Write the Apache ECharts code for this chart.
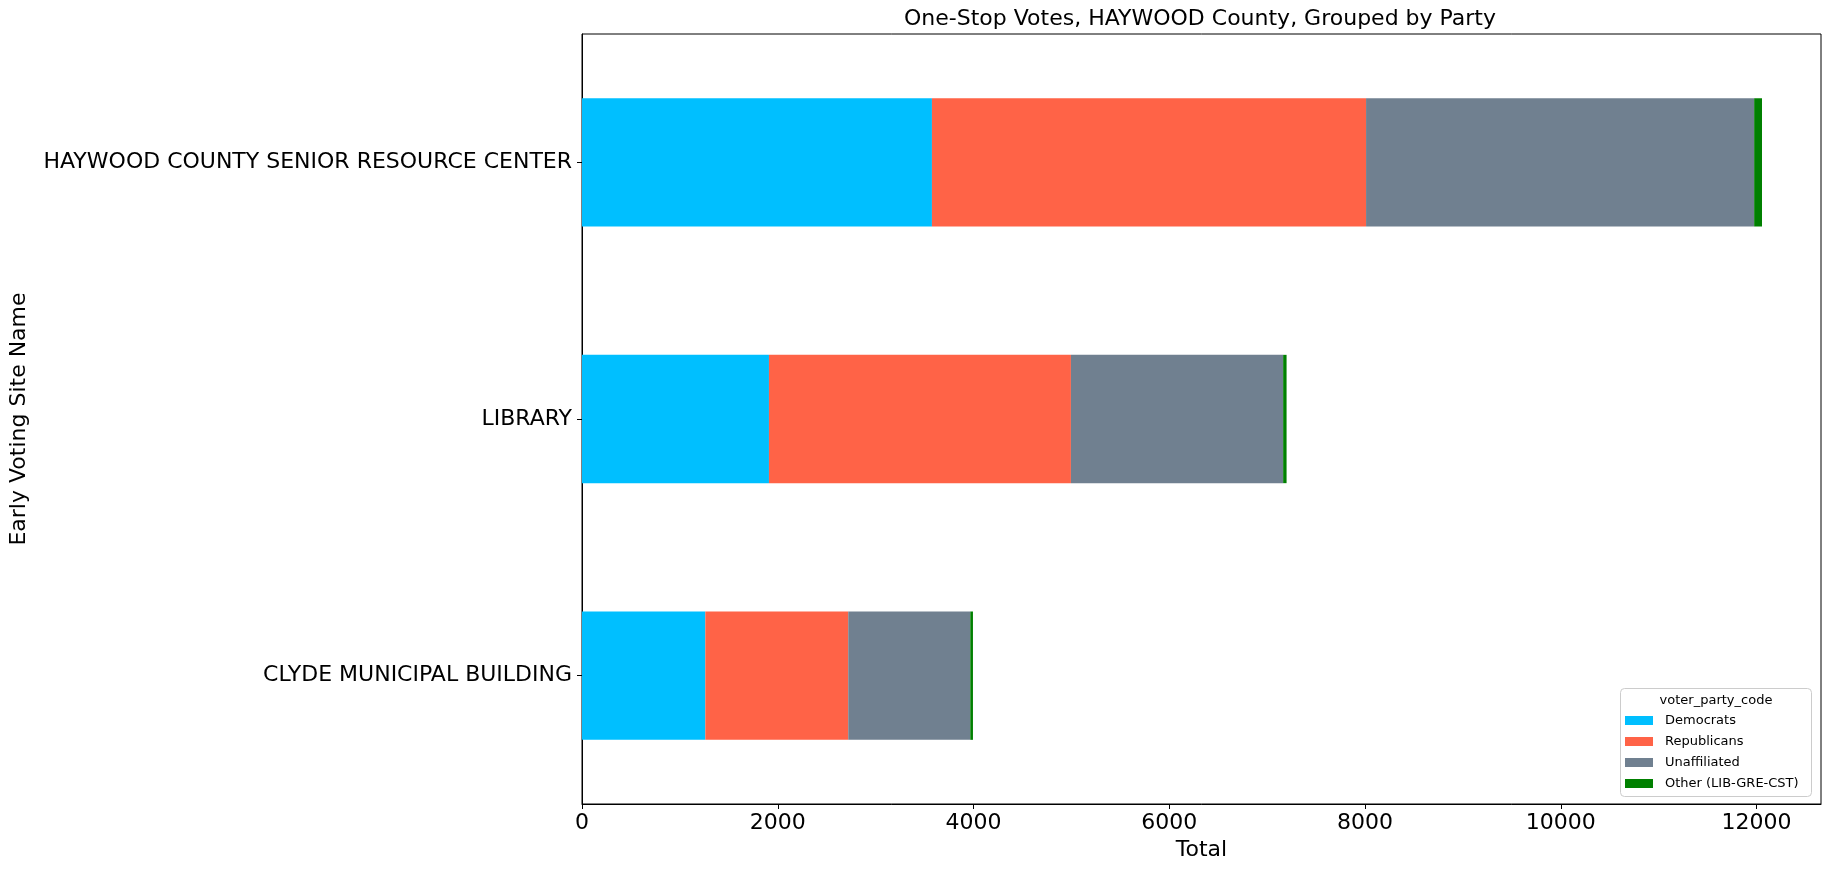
<!DOCTYPE html>
<html>
<head>
<meta charset="utf-8">
<script src="https://cdn.jsdelivr.net/npm/echarts@6/dist/echarts.min.js"></script>
<style>
html,body{margin:0;padding:0;background:#fff;}
#chart{width:1829px;height:869px;}
</style>
</head>
<body>
<div id="chart"></div>
<script>
const categories = ['CLYDE MUNICIPAL BUILDING', 'LIBRARY', 'HAYWOOD COUNTY SENIOR RESOURCE CENTER'];
const democrats = [1260, 1910, 3575];
const republicans = [1460, 3085, 4435];
const unaffiliated = [1247, 2168, 3965];
const other = [27, 35, 80];
const seriesNames = ['Democrats', 'Republicans', 'Unaffiliated', 'Other (LIB-GRE-CST)'];
const colors = ['#00BFFF', '#FF6347', '#708090', '#008000'];
const xTicks = [0, 2000, 4000, 6000, 8000, 10000, 12000];

const totals = categories.map((c, i) => democrats[i] + republicans[i] + unaffiliated[i] + other[i]);
const xMax = Math.max(...totals) * 1.05;

const FONT = 'DejaVu Sans';
const chart = echarts.init(document.getElementById('chart'), null, {renderer: 'canvas'});

const seriesData = [democrats, republicans, unaffiliated, other];
const series = seriesNames.map((name, k) => ({
  name: name,
  type: 'bar',
  stack: 'total',
  barWidth: '50%',
  data: seriesData[k],
  itemStyle: {color: colors[k]},
  emphasis: {disabled: true}
}));

const option = {
  animation: false,
  backgroundColor: '#ffffff',
  grid: {
    left: 579, top: 34, right: 8, bottom: 65,
    show: true, borderColor: '#000', borderWidth: 1, backgroundColor: 'transparent'
  },
  xAxis: {
    type: 'value',
    min: 0,
    max: xMax,
    interval: 2000,
    name: 'Total',
    nameLocation: 'middle',
    nameGap: 33,
    nameTextStyle: {fontFamily: FONT, fontSize: 22, color: '#000'},
    axisLine: {show: true, lineStyle: {color: '#000', width: 1}},
    axisTick: {show: true, length: 5, inside: false, lineStyle: {color: '#000'}},
    axisLabel: {
      fontFamily: FONT, fontSize: 22, color: '#000', margin: 8,
      showMaxLabel: false,
      formatter: v => (xTicks.indexOf(v) >= 0 ? String(v) : '')
    },
    splitLine: {show: false}
  },
  yAxis: {
    type: 'category',
    data: categories,
    name: 'Early Voting Site Name',
    nameLocation: 'middle',
    nameGap: 552,
    nameRotate: 90,
    nameTextStyle: {fontFamily: FONT, fontSize: 22, color: '#000'},
    axisLine: {show: true, lineStyle: {color: '#000', width: 1}},
    axisTick: {show: true, alignWithLabel: true, length: 5, lineStyle: {color: '#000'}},
    axisLabel: {fontFamily: FONT, fontSize: 22, color: '#000', margin: 10},
    splitLine: {show: false}
  },
  legend: {
    orient: 'vertical',
    left: 1625,
    top: 714,
    padding: 0,
    itemWidth: 28,
    itemHeight: 9,
    itemGap: 8,
    icon: 'rect',
    selectedMode: false,
    data: seriesNames,
    textStyle: {fontFamily: FONT, fontSize: 13, color: '#000', lineHeight: 13, padding: [0, 0, 0, 7]}
  },
  graphic: [
    {
      type: 'text',
      z: 10,
      style: {
        text: 'One-Stop Votes, HAYWOOD County, Grouped by Party',
        x: 1200, y: 19,
        align: 'center', verticalAlign: 'middle',
        font: '22px "DejaVu Sans"', fill: '#000'
      }
    },
    {
      type: 'rect',
      z: 1,
      shape: {x: 1620.5, y: 688.5, width: 191, height: 108, r: 4},
      style: {fill: 'rgba(255,255,255,0.8)', stroke: '#cccccc', lineWidth: 1}
    },
    {
      type: 'text',
      z: 10,
      style: {
        text: 'voter_party_code',
        x: 1716, y: 701,
        align: 'center', verticalAlign: 'middle',
        font: '13px "DejaVu Sans"', fill: '#000'
      }
    }
  ],
  series: series
};
chart.setOption(option);
</script>
</body>
</html>
